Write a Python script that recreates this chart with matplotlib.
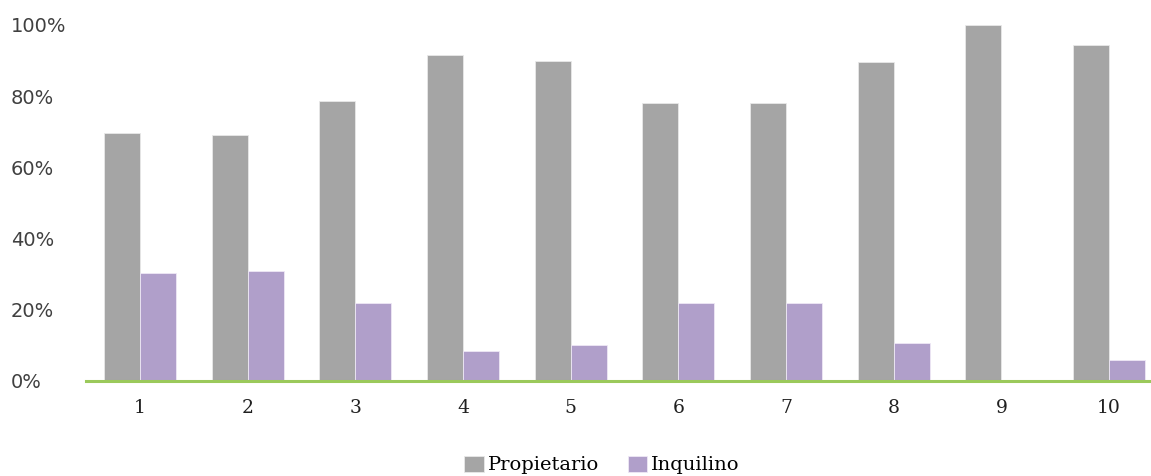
import matplotlib.pyplot as plt
import numpy as np

categorias = ['1', '2', '3', '4', '5', '6', '7', '8', '9', '10']
propietario = [69.7, 69.2, 78.7, 91.6, 89.9, 78.1, 78.1, 89.5, 100.0, 94.4]
inquilino = [30.3, 30.8, 21.9, 8.4, 10.1, 21.9, 21.9, 10.6, 0.0, 5.9]
yticks = [0, 20, 40, 60, 80, 100]

W, H = 1151, 476
fig = plt.figure(figsize=(W / 100, H / 100), dpi=100)
# axes run past the right edge, as in the cropped original
ax = fig.add_axes([86 / W, 95 / H, (1163 - 86) / W, (381 - 25) / H])

x = np.arange(len(categorias))
bw = 0.334
ax.bar(x - bw / 2, propietario, bw, color='#A5A5A5', edgecolor='#E8E8E8',
       linewidth=0.6, label='Propietario', zorder=2)
ax.bar(x + bw / 2, inquilino, bw, color='#B09FCA', edgecolor='#EEE8F5',
       linewidth=0.6, label='Inquilino', zorder=2)

ax.set_xlim(-0.5, len(categorias) - 0.5)
ax.set_ylim(0, 100)
ax.set_yticks(yticks)
ax.set_yticklabels(['{}%'.format(v) for v in yticks], fontsize=14,
                   family='DejaVu Sans', color='#404040')
for lbl in ax.get_yticklabels():
    lbl.set_horizontalalignment('left')
ax.tick_params(axis='y', length=0, pad=54)

ax.set_xticks(x)
ax.set_xticklabels(categorias, fontsize=13.5, family='DejaVu Serif', color='#202020')
ax.tick_params(axis='x', length=0, pad=13)

for s in ['top', 'right', 'left']:
    ax.spines[s].set_visible(False)
ax.spines['bottom'].set_color('#9BC95B')
ax.spines['bottom'].set_linewidth(2.2)
ax.spines['bottom'].set_zorder(3)

leg = fig.legend(loc='center', bbox_to_anchor=(602 / W, 1 - 465 / H), ncol=2,
                 frameon=False, prop={'family': 'DejaVu Serif', 'size': 14},
                 handlelength=1.0, handleheight=0.9, handletextpad=0.2,
                 columnspacing=1.5)

fig.savefig('out.png', dpi=100)
